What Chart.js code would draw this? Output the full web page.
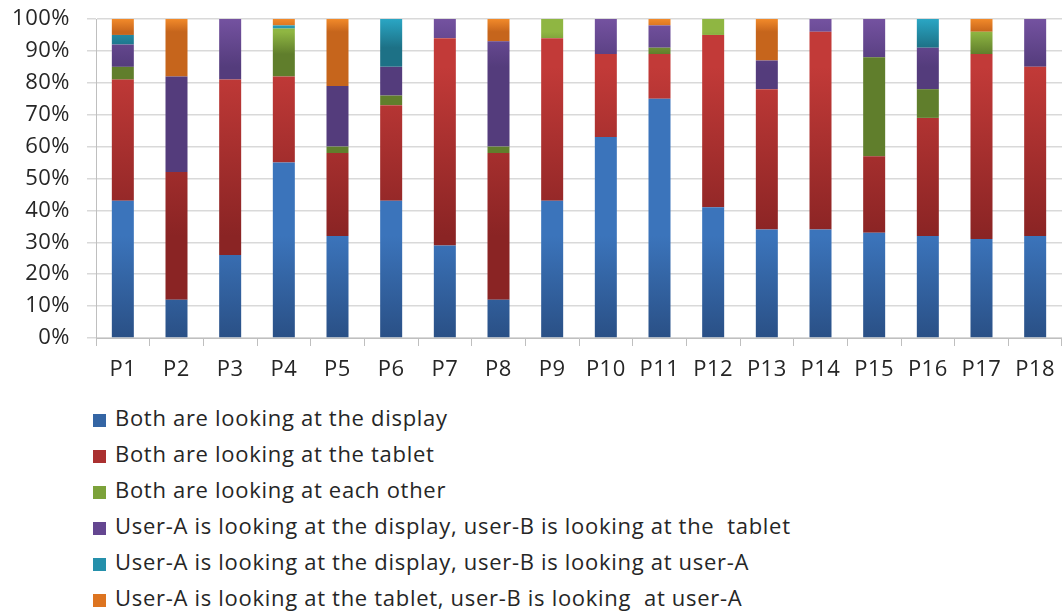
<!DOCTYPE html>
<html>
<head>
<meta charset="utf-8">
<script src="https://cdn.jsdelivr.net/npm/chart.js@4.4.1/dist/chart.umd.min.js"></script>
<style>
  html, body { margin: 0; padding: 0; background: #fff; }
  #wrap { position: relative; width: 1062px; height: 614px; overflow: hidden; }
  #chartBox { position: absolute; left: 0; top: 0; width: 1062px; height: 392px; }
  #legend { position: absolute; left: 93px; top: 399px; font-family: "Open Sans", sans-serif; font-size: 22px; letter-spacing: 0.7px; color: #262626; }
  #legend .item { height: 36.1px; line-height: 36px; white-space: pre; }
  #legend .box { display: inline-block; width: 13px; height: 13px; margin-right: 9px; vertical-align: -1px; }
</style>
</head>
<body>
<div id="wrap">
  <div id="chartBox"><canvas id="myChart" width="1062" height="392"></canvas></div>
  <div id="legend"></div>
</div>
<script>
const participants = ['P1','P2','P3','P4','P5','P6','P7','P8','P9','P10','P11','P12','P13','P14','P15','P16','P17','P18'];

// percentages per participant, bottom to top
const bothDisplay   = [43, 12, 26, 55, 32, 43, 29, 12, 43, 63, 75, 41, 34, 34, 33, 32, 31, 32];
const bothTablet    = [38, 40, 55, 27, 26, 30, 65, 46, 51, 26, 14, 54, 44, 62, 24, 37, 58, 53];
const eachOther     = [ 4,  0,  0, 15,  2,  3,  0,  2,  6,  0,  2,  5,  0,  0, 31,  9,  7,  0];
const dispTablet    = [ 7, 30, 19,  0, 19,  9,  6, 33,  0, 11,  7,  0,  9,  4, 12, 13,  0, 15];
const dispUserA     = [ 3,  0,  0,  1,  0, 15,  0,  0,  0,  0,  0,  0,  0,  0,  0,  9,  0,  0];
const tabletUserA   = [ 5, 18,  0,  2, 21,  0,  0,  7,  0,  0,  2,  0, 13,  0,  0,  0,  4,  0];

const yTicks = [0, 10, 20, 30, 40, 50, 60, 70, 80, 90, 100];

const seriesNames = [
    'Both are looking at the display',
    'Both are looking at the tablet',
    'Both are looking at each other',
    'User-A is looking at the display, user-B is looking at the  tablet',
    'User-A is looking at the display, user-B is looking at user-A',
    'User-A is looking at the tablet, user-B is looking  at user-A'
];
const seriesData = [bothDisplay, bothTablet, eachOther, dispTablet, dispUserA, tabletUserA];

// [solid, light top, dark bottom]
const colors = [
    ['#3465a4', '#3b74bb', '#2a5086'],
    ['#aa3030', '#c23a38', '#8a2424'],
    ['#7ca23a', '#8fb642', '#607e2c'],
    ['#644690', '#7452a0', '#543c7c'],
    ['#2590ab', '#2aa6c4', '#1d7186'],
    ['#dd7420', '#f28a2a', '#c6651c']
];

// Excel-like vertical gradient on each bar segment
const gradientPlugin = {
    id: 'segGradient',
    beforeDatasetDraw(chart, args) {
        const c = colors[args.index];
        args.meta.data.forEach(bar => {
            const top = Math.min(bar.y, bar.base);
            const bottom = Math.max(bar.y, bar.base);
            if (bottom - top < 0.5) return;
            const g = chart.ctx.createLinearGradient(0, top, 0, bottom);
            g.addColorStop(0, c[1]);
            g.addColorStop(1, c[2]);
            bar.options.backgroundColor = g;
        });
    }
};

// slightly wider lettering, like the original
const spacingPlugin = {
    id: 'letterSpacing',
    beforeLayout(chart) { chart.ctx.letterSpacing = '0.5px'; },
    beforeDraw(chart) { chart.ctx.letterSpacing = '0.5px'; }
};

const tickFont = { family: '"Open Sans", sans-serif', size: 22 };

new Chart('myChart', {
    type: 'bar',
    data: {
        labels: participants,
        datasets: seriesData.map((d, i) => ({
            label: seriesNames[i],
            data: d,
            backgroundColor: colors[i][0],
            borderWidth: 0,
            barPercentage: 0.82,
            categoryPercentage: 0.5
        }))
    },
    options: {
        responsive: false,
        animation: false,
        layout: { padding: { top: 19, right: 0, bottom: 0, left: 0 } },
        plugins: {
            legend: { display: false },
            tooltip: { enabled: false }
        },
        scales: {
            x: {
                stacked: true,
                afterFit: s => { s.height = 54; s.paddingLeft = 0; s.paddingRight = 0; },
                grid: {
                    offset: true,
                    drawOnChartArea: false,
                    drawTicks: true,
                    tickLength: 8,
                    color: '#bfbfbf'
                },
                border: { color: '#bfbfbf' },
                ticks: {
                    padding: 11,
                    color: '#262626',
                    font: tickFont
                }
            },
            y: {
                stacked: true,
                min: 0,
                max: 100,
                afterFit: s => { s.width = 96; s.paddingTop = 0; s.paddingBottom = 0; },
                afterBuildTicks: s => { s.ticks = yTicks.map(v => ({ value: v })); },
                grid: {
                    color: '#d9d9d9',
                    lineWidth: 1.5,
                    tickLength: 9
                },
                border: { color: '#bfbfbf' },
                ticks: {
                    padding: 17,
                    color: '#262626',
                    font: tickFont,
                    callback: v => v + '%'
                }
            }
        }
    },
    plugins: [gradientPlugin, spacingPlugin]
});

// legend, one entry per row like the original
const legendEl = document.getElementById('legend');
seriesNames.forEach((name, i) => {
    const row = document.createElement('div');
    row.className = 'item';
    const box = document.createElement('span');
    box.className = 'box';
    box.style.background = colors[i][0];
    row.appendChild(box);
    row.appendChild(document.createTextNode(name));
    legendEl.appendChild(row);
});
</script>
</body>
</html>
